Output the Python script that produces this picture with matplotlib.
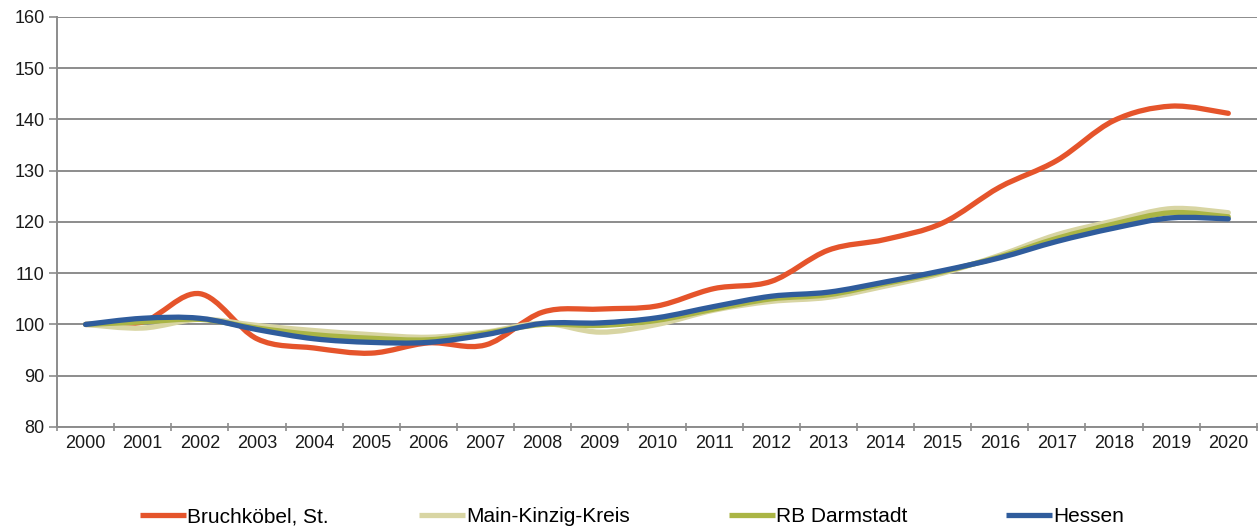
import numpy as np
import matplotlib.pyplot as plt
from matplotlib.path import Path
from matplotlib.patches import PathPatch
from matplotlib.lines import Line2D

plt.rcParams.update({'font.family': ['Liberation Sans', 'DejaVu Sans'], 'font.size': 12})

# ── Data (index, 2000 = 100) ──────────────────────────────────────────────────
years = [str(y) for y in range(2000, 2021)]

bruchkoebel = [100, 100.5, 106, 97.2, 95.4, 94.4, 96.4, 96.0, 102.4, 103, 103.6,
               107.0, 108.4, 114.5, 116.6, 119.8, 126.8, 132.0, 139.8, 142.6, 141.2]
main_kinzig = [100, 99.3, 101, 99.8, 98.8, 98.0, 97.5, 98.5, 100.2, 98.5, 100.0,
               102.8, 104.5, 105.3, 107.5, 110.0, 113.5, 117.5, 120.2, 122.6, 121.8]
rb_darmstadt = [100, 100.5, 101, 99.3, 98.0, 97.3, 97.0, 98.3, 100.0, 99.8, 100.8,
                103.0, 105.0, 105.8, 108.0, 110.3, 113.2, 116.8, 119.6, 121.8, 121.0]
hessen = [100, 101.2, 101.2, 99.0, 97.2, 96.5, 96.5, 98.0, 100.2, 100.3, 101.3,
          103.5, 105.5, 106.3, 108.3, 110.5, 113.0, 116.2, 118.8, 120.8, 120.6]

series = [
    ('Bruchköbel, St.', bruchkoebel, '#e5542b'),
    ('Main-Kinzig-Kreis', main_kinzig, '#d8d5a3'),
    ('RB Darmstadt', rb_darmstadt, '#aab545'),
    ('Hessen', hessen, '#2f5c9c'),
]


def smooth_path(x, y):
    """Excel-style smoothed line: cubic Bezier through every data point."""
    pts = np.column_stack([x, y]).astype(float)
    n = len(pts)
    verts = [pts[0]]
    codes = [Path.MOVETO]
    for i in range(n - 1):
        p0 = pts[max(i - 1, 0)]
        p1 = pts[i]
        p2 = pts[i + 1]
        p3 = pts[min(i + 2, n - 1)]
        c1 = p1 + (p2 - p0) / 6
        c2 = p2 - (p3 - p1) / 6
        verts += [c1, c2, p2]
        codes += [Path.CURVE4] * 3
    return Path(verts, codes)


fig = plt.figure(figsize=(12.59, 5.31), dpi=100)
ax = fig.add_axes([0.0453, 0.196, 0.953, 0.772])

x = np.arange(len(years))
for name, vals, color in series:
    patch = PathPatch(smooth_path(x, vals), fill=False, edgecolor=color,
                      linewidth=3.8, capstyle='round', joinstyle='round')
    ax.add_patch(patch)

ax.set_xlim(-0.5, len(years) - 0.5)
ax.set_ylim(80, 160)
ax.set_yticks(range(80, 161, 10))
ax.yaxis.grid(True, color='#8c8c8c', linewidth=1.4)
ax.set_axisbelow(True)

# category axis: labels centred, tick marks on the boundaries
ax.set_xticks(x)
ax.set_xticklabels(years)
ax.set_xticks(np.arange(-0.5, len(years), 1), minor=True)
ax.tick_params(axis='x', which='major', length=0, pad=6)
ax.tick_params(axis='x', which='minor', length=6, width=1.2, color='#8c8c8c',
               direction='inout')
ax.tick_params(axis='y', length=6, width=1.2, color='#8c8c8c', pad=3)
ax.tick_params(labelsize=13, labelcolor='#1a1a1a')

for side in ['top', 'right']:
    ax.spines[side].set_visible(False)
for side in ['left', 'bottom']:
    ax.spines[side].set_color('#8c8c8c')
    ax.spines[side].set_linewidth(1.4)

# legend entries placed like the original (uneven spacing)
legend_x = [0.111, 0.333, 0.579, 0.799]
for (name, vals, color), lx in zip(series, legend_x):
    handle = Line2D([], [], color=color, linewidth=3.8, solid_capstyle='butt')
    fig.legend([handle], [name], loc='center left', bbox_to_anchor=(lx, 0.027),
               frameon=False, handlelength=2.2, handletextpad=0.05,
               borderaxespad=0, borderpad=0, fontsize=15)

fig.savefig('out.png', dpi=100)
